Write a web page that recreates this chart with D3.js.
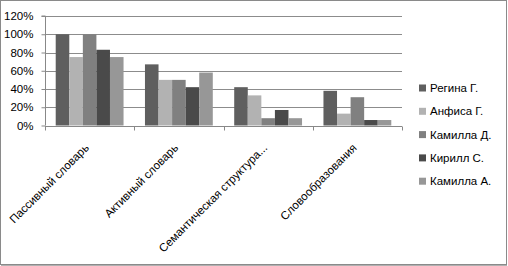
<!DOCTYPE html>
<html><head><meta charset="utf-8">
<script src="https://cdn.jsdelivr.net/npm/d3@7"></script>
<style>
body{margin:0;background:#fff;}
text{font-family:"Liberation Sans",Arial,sans-serif;font-size:11.5px;fill:#000;}
</style></head>
<body><svg id="c" width="508" height="266"></svg>
<script>
const categories = ["Пассивный словарь","Активный словарь","Семантическая структура...","Словообразования"];
const seriesNames = ["Регина Г.","Анфиса Г.","Камилла Д.","Кирилл С.","Камилла А."];
const seriesValues = [
  [100, 67, 42, 38],
  [75, 50, 33, 13],
  [100, 50, 8, 31],
  [83, 42, 17, 6],
  [75, 58, 8, 6]
];
const yTicks = [0,20,40,60,80,100,120];
const colors = ["#5f5f5f","#b2b2b2","#808080","#4a4a4a","#979797"];

const svg = d3.select("#c");
// border
svg.append("rect").attr("x",0.5).attr("y",0.5).attr("width",506).attr("height",264)
  .attr("fill","#fff").attr("stroke","#8a8a8a").attr("stroke-width",1);
svg.append("line").attr("x1",1).attr("x2",507).attr("y1",265.5).attr("y2",265.5).attr("stroke","#b0b0b0");

const L=45, R=402, T=16, B=125.5;
const x = d3.scaleBand().domain(categories).range([L,R]).padding(0);
const xi = d3.scaleBand().domain(d3.range(seriesNames.length)).range([x.bandwidth()*0.12, x.bandwidth()*0.88]).padding(0);
const y = d3.scaleLinear().domain([0,120]).range([B,T]);

// gridlines
svg.append("g").selectAll("line").data(yTicks.filter(d=>d>0)).join("line")
  .attr("x1",L).attr("x2",R).attr("y1",d=>Math.round(y(d))+0.5).attr("y2",d=>Math.round(y(d))+0.5)
  .attr("stroke","#8c8c8c").attr("stroke-width",1);

// bars
const g = svg.append("g");
seriesNames.forEach((s,si)=>{
  g.selectAll(null).data(seriesValues[si]).join("rect")
    .attr("x",(d,i)=>x(categories[i])+xi(si))
    .attr("width",xi.bandwidth())
    .attr("y",d=>y(d))
    .attr("height",d=>B-y(d))
    .attr("fill",colors[si]);
});

// y axis
const ya = d3.axisLeft(y).tickValues(yTicks).tickFormat(d=>d+"%").tickSize(4).tickPadding(8);
const yg = svg.append("g").attr("transform",`translate(${L+0.5},0)`).call(ya);
yg.select(".domain").attr("stroke","#888").attr("d",`M-4,${T}H0V${B}`);
yg.selectAll(".tick line").attr("stroke","#888");
yg.selectAll("text").style("font-family","Liberation Sans, Arial, sans-serif").style("font-size","11.5px").attr("fill","#000");

// x axis
const xa = d3.axisBottom(x).tickSize(0).tickFormat("");
const xg = svg.append("g").attr("transform",`translate(0,${Math.round(B)+0.5})`).call(xa);
xg.select(".domain").attr("stroke","#888").attr("d",`M${L},0H${R}`);
xg.selectAll(".tick").remove();
const bounds = categories.map(c=>x(c)).concat([R]);
xg.selectAll("line.sep").data(bounds).join("line").attr("class","sep")
  .attr("x1",d=>Math.round(d)+0.5).attr("x2",d=>Math.round(d)+0.5).attr("y1",0).attr("y2",4).attr("stroke","#888");

svg.append("g").selectAll("text").data(categories).join("text")
  .attr("text-anchor","end")
  .attr("transform",d=>`translate(${x(d)+x.bandwidth()/2},${B+23}) rotate(-45)`)
  .text(d=>d);

// legend
const lg = svg.append("g");
seriesNames.forEach((s,i)=>{
  const cy = 88 + i*23.3;
  lg.append("rect").attr("x",419).attr("y",cy-3.5).attr("width",7).attr("height",7).attr("fill",colors[i]);
  lg.append("text").attr("x",430).attr("y",cy).attr("dy","0.35em").text(s);
});
</script></body></html>
